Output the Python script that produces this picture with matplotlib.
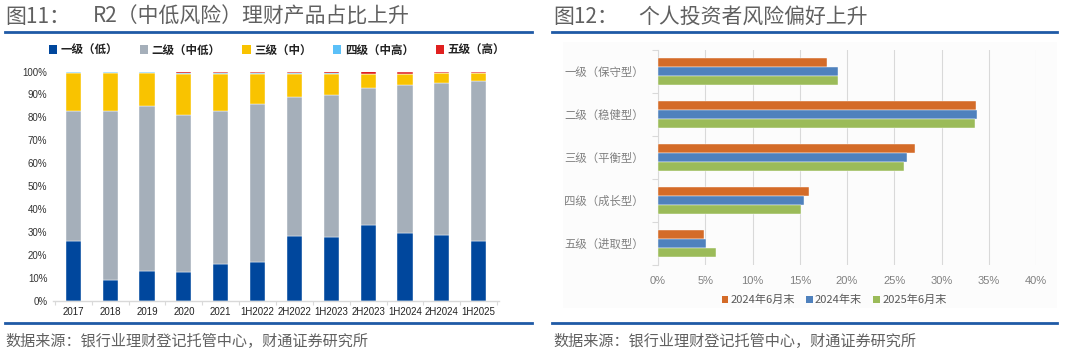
import matplotlib
matplotlib.use("Agg")
import matplotlib.pyplot as plt
from matplotlib import font_manager
from matplotlib.patches import Patch
from matplotlib.lines import Line2D
import numpy as np

# ---------------- data ----------------
periods = ["2017", "2018", "2019", "2020", "2021", "1H2022", "2H2022",
           "1H2023", "2H2023", "1H2024", "2H2024", "1H2025"]
level1 = [26.0, 9.1, 12.9, 12.5, 16.2, 17.1, 28.4, 27.8, 33.3, 29.6, 28.7, 26.0]
level2 = [57.0, 73.9, 71.9, 68.5, 66.6, 68.6, 60.3, 61.9, 59.3, 64.5, 66.5, 69.8]
level3 = [16.4, 16.4, 14.6, 18.1, 16.3, 13.4, 10.4, 9.3, 6.1, 4.7, 4.1, 3.5]
level4 = [0.3, 0.3, 0.3, 0.05, 0.05, 0.05, 0.05, 0.3, 0.2, 0.1, 0.05, 0.05]
level5 = [0.3, 0.3, 0.3, 0.85, 0.85, 0.85, 0.85, 0.7, 1.1, 1.1, 0.65, 0.65]
product_labels = ["一级（低）", "二级（中低）", "三级（中）", "四级（中高）", "五级（高）"]

investor_types = ["一级（保守型）", "二级（稳健型）", "三级（平衡型）", "四级（成长型）", "五级（进取型）"]
jun2024 = [17.9, 33.7, 27.2, 16.0, 4.9]
dec2024 = [19.1, 33.8, 26.3, 15.4, 5.1]
jun2025 = [19.0, 33.5, 26.0, 15.1, 6.1]
investor_series = ["2024年6月末", "2024年末", "2025年6月末"]

# ---------------- fonts ----------------
avail = {f.name for f in font_manager.fontManager.ttflist}
CJK = "Noto Sans CJK SC"
NUM = "Liberation Sans Narrow" if "Liberation Sans Narrow" in avail else "Liberation Sans"
plt.rcParams["font.family"] = [CJK, "DejaVu Sans"]

W, H = 1080, 353
fig = plt.figure(figsize=(W / 100, H / 100), dpi=100)
fig.patch.set_facecolor("white")

def fx(px):
    return px / W

def fy(py):
    return 1 - py / H

title_color = "#606060"
line_color = "#1F5AA6"

# titles
fig.text(fx(5), fy(17), "图11：", fontsize=15, color=title_color, va="center", ha="left")
fig.text(fx(93), fy(17), "R2（中低风险）理财产品占比上升", fontsize=15, color=title_color,
         va="center", ha="left")
fig.text(fx(553), fy(17), "图12：", fontsize=15, color=title_color, va="center", ha="left")
fig.text(fx(638), fy(17), "个人投资者风险偏好上升", fontsize=15, color=title_color,
         va="center", ha="left")

# rule lines
for (x0, x1) in [(5, 532), (552, 1057)]:
    fig.add_artist(Line2D([fx(x0), fx(x1)], [fy(32), fy(32)], color=line_color, lw=2))
    fig.add_artist(Line2D([fx(x0), fx(x1)], [fy(323), fy(323)], color=line_color, lw=2))

# sources
src = "数据来源：银行业理财登记托管中心，财通证券研究所"
fig.text(fx(5), fy(341), src, fontsize=10.9, color=title_color, va="center", ha="left")
fig.text(fx(553), fy(341), src, fontsize=10.9, color=title_color, va="center", ha="left")

# ---------------- left chart ----------------
ax1 = fig.add_axes([fx(53), fy(301), fx(499 - 53), (301 - 71.5) / H])
x = np.arange(len(periods))
colors1 = ["#00479D", "#A5AFBA", "#F9C300", "#5BC0F8", "#E0201F"]
series1 = [level1, level2, level3, level4, level5]
bottom = np.zeros(len(periods))
for vals, c, lab in zip(series1, colors1, product_labels):
    vals = np.array(vals) / 100.0
    ax1.bar(x, vals, bottom=bottom, width=0.41, color=c, edgecolor="white",
            linewidth=0.3, label=lab)
    bottom += vals
ax1.set_xlim(-0.55, len(periods) - 0.45)
ax1.set_ylim(0, 1.0)
ax1.set_yticks(np.arange(0, 1.01, 0.1))
ax1.set_yticklabels([f"{int(round(v * 100))}%" for v in np.arange(0, 1.01, 0.1)],
                    fontsize=7, family=NUM, color="#333333")
ax1.set_xticks(x)
ax1.set_xticklabels(periods, fontsize=7, family=NUM, color="#222222")
ax1.tick_params(axis="x", length=0, pad=4)
ax1.set_xticks(np.arange(-0.5, len(periods), 1), minor=True)
ax1.tick_params(axis="x", which="minor", length=3, color="#D9D9D9", width=0.8)
ax1.tick_params(axis="y", length=0, pad=4)
for s in ["top", "right", "left"]:
    ax1.spines[s].set_visible(False)
ax1.spines["bottom"].set_color("#D9D9D9")
ax1.spines["bottom"].set_linewidth(1)

h1 = [Patch(facecolor=c, edgecolor="none") for c in colors1]
leg1 = fig.legend(h1, product_labels, loc="center", bbox_to_anchor=(fx(277), fy(50)),
                  ncol=5, frameon=False, handlelength=0.7, handleheight=0.7,
                  handletextpad=0.3, columnspacing=1.9,
                  prop={"family": [CJK], "size": 8.3, "weight": "bold"})
for t in leg1.get_texts():
    t.set_color("#222222")

# ---------------- right chart ----------------
bgax = fig.add_axes([fx(563), fy(308), fx(1057 - 563), (308 - 42) / H])
bgax.set_facecolor("#FCFCFC")
bgax.set_xticks([])
bgax.set_yticks([])
for s in bgax.spines.values():
    s.set_visible(False)
bgax.set_zorder(0)

ax2 = fig.add_axes([fx(658), fy(265), fx(1036 - 658), (265 - 50) / H])
ax2.set_zorder(1)
ax2.patch.set_alpha(0)
colors2 = ["#D46B28", "#4F81BD", "#9BBB59"]
series2 = [jun2024, dec2024, jun2025]
n = len(investor_types)
ypos = np.arange(n)
bh = 0.205
offsets = [-bh, 0, bh]
for vals, c, off, lab in zip(series2, colors2, offsets, investor_series):
    ax2.barh(ypos + off, np.array(vals) / 100.0, height=bh, color=c, label=lab,
             edgecolor="white", linewidth=0.3, zorder=3)
ax2.set_ylim(n - 0.5, -0.5)
ax2.set_xlim(0, 0.40)
ax2.set_xticks(np.arange(0, 0.401, 0.05))
ax2.set_xticklabels([f"{int(round(v * 100))}%" for v in np.arange(0, 0.401, 0.05)],
                    fontsize=8, color="#808080", family=NUM)
ax2.tick_params(axis="x", length=0, pad=8)
ax2.grid(axis="x", color="#D9D9D9", linewidth=0.8, zorder=0)
ax2.set_yticks(ypos)
ax2.set_yticklabels(investor_types, fontsize=8.2, color="#808080")
ax2.tick_params(axis="y", length=0, pad=10)
ax2.set_yticks(np.arange(-0.5, n, 1), minor=True)
ax2.tick_params(axis="y", which="minor", length=4, color="#D9D9D9", width=0.8)
for s in ["top", "right", "bottom"]:
    ax2.spines[s].set_visible(False)
ax2.spines["left"].set_color("#D9D9D9")
ax2.spines["left"].set_linewidth(0.8)

h2 = [Patch(facecolor=c, edgecolor="none") for c in colors2]
leg2 = fig.legend(h2, investor_series, loc="center", bbox_to_anchor=(fx(834), fy(300)),
                  ncol=3, frameon=False, handlelength=0.6, handleheight=0.6,
                  handletextpad=0.2, columnspacing=1.0,
                  prop={"family": [CJK], "size": 8})
for t in leg2.get_texts():
    t.set_color("#595959")

fig.savefig("out.png", dpi=100, facecolor="white")
